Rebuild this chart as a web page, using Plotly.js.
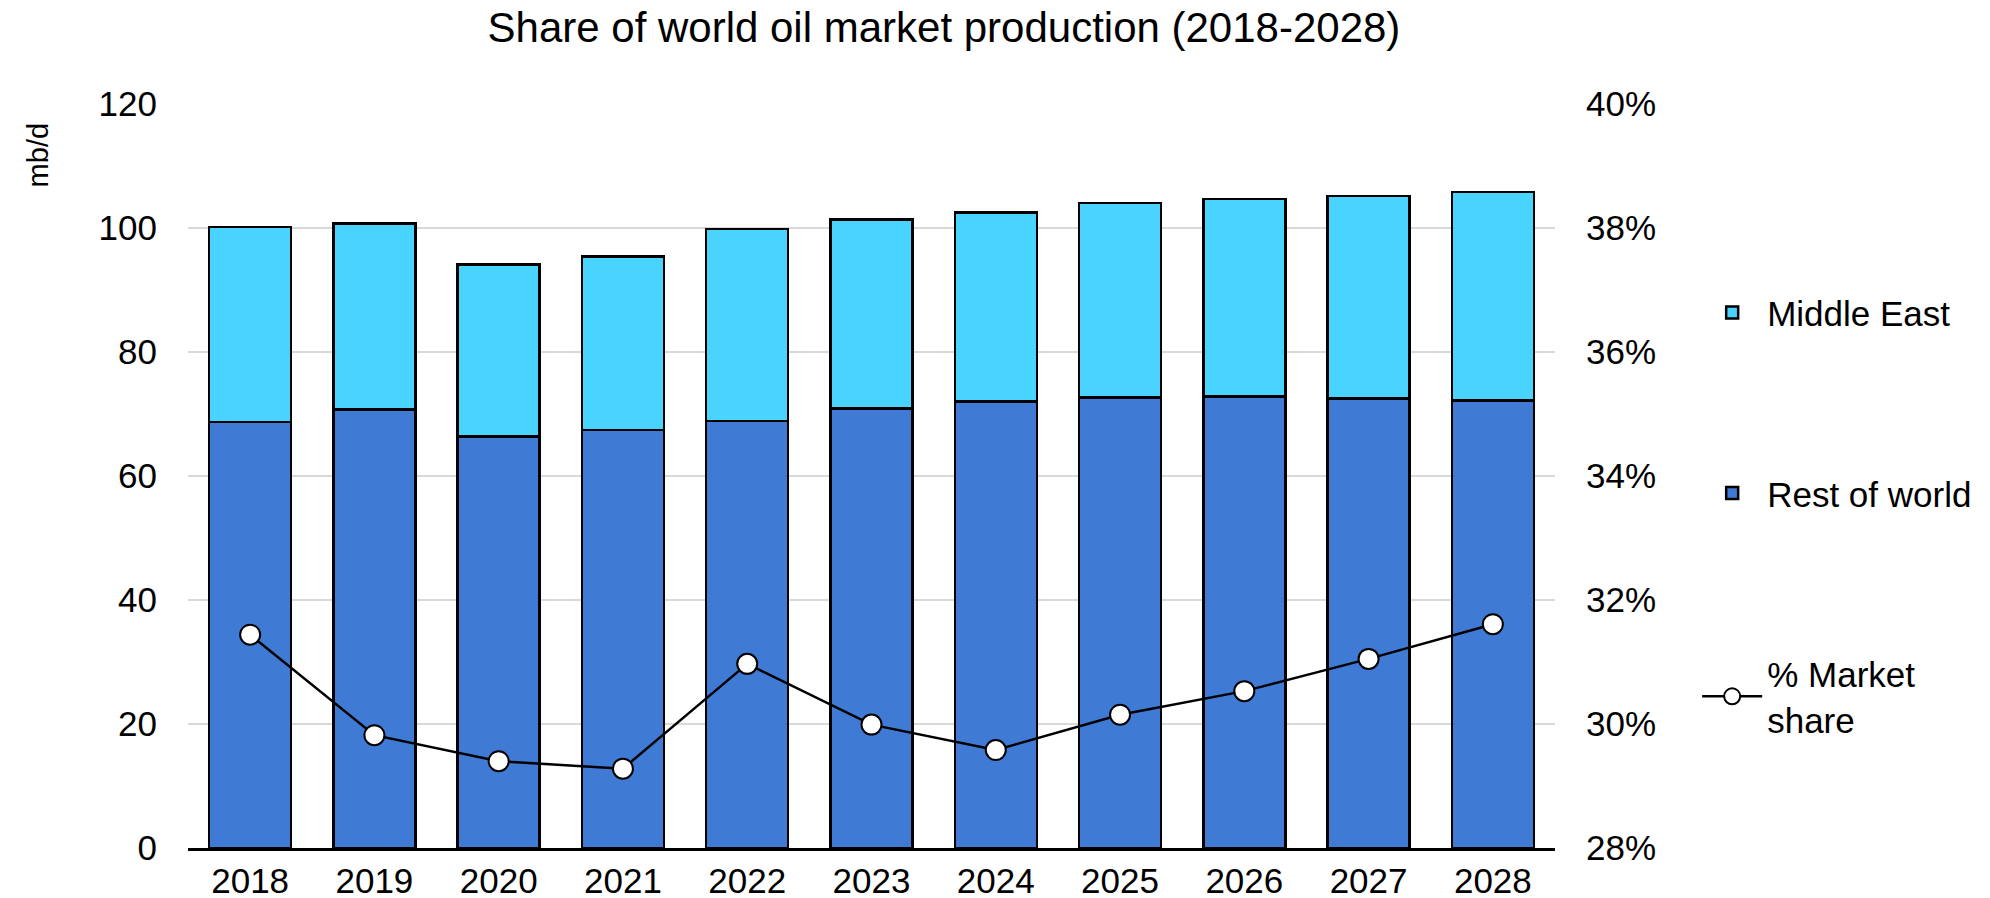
<!DOCTYPE html>
<html>
<head>
<meta charset="utf-8">
<script src="https://cdn.plot.ly/plotly-3.0.1.min.js"></script>
<style>html,body{margin:0;padding:0;background:#fff;}#chart{width:1990px;height:898px;}</style>
</head>
<body>
<div id="chart"></div>
<script>
const years = ['2018','2019','2020','2021','2022','2023','2024','2025','2026','2027','2028'];
const restOfWorld = [68.7, 70.7, 66.4, 67.4, 68.9, 70.9, 72.0, 72.7, 72.8, 72.5, 72.2];
const middleEast = [31.5, 30.05, 27.7, 28.0, 30.9, 30.5, 30.5, 31.3, 31.9, 32.7, 33.6];
const marketShare = [31.44, 29.82, 29.40, 29.28, 30.97, 29.99, 29.58, 30.15, 30.53, 31.05, 31.61];
const leftTicks = [0, 20, 40, 60, 80, 100, 120];
const rightTicks = [28, 30, 32, 34, 36, 38, 40];

const FONT = 'Liberation Sans, Arial, sans-serif';

const traces = [
  {
    type: 'bar', name: 'Rest of world', x: years, y: restOfWorld,
    marker: {color: '#3F7AD4', line: {color: '#000', width: 2.5}},
    legendgroup: 'b', legendrank: 2, hoverinfo: 'x+y'
  },
  {
    type: 'bar', name: 'Middle East', x: years, y: middleEast,
    marker: {color: '#48D4FF', line: {color: '#000', width: 2.5}},
    legendgroup: 'a', legendrank: 1, hoverinfo: 'x+y'
  },
  {
    type: 'scatter', mode: 'lines+markers', name: '% Market<br>share', x: years, y: marketShare,
    yaxis: 'y2',
    line: {color: '#000', width: 2.5},
    marker: {symbol: 'circle', size: 20, color: '#fff', line: {color: '#000', width: 2}},
    legendgroup: 'c', legendrank: 3
  }
];

const layout = {
  width: 1990, height: 898,
  margin: {l: 188, r: 435, t: 104, b: 50, pad: 0},
  paper_bgcolor: '#fff', plot_bgcolor: '#fff',
  font: {family: FONT, size: 35, color: '#000'},
  title: {text: 'Share of world oil market production (2018-2028)', font: {family: FONT, size: 42, color: '#000'},
          x: 0.553, xref: 'paper', xanchor: 'center', y: 0.97, yanchor: 'middle'},
  barmode: 'stack', bargap: 0.34,
  showlegend: true,
  legend: {
    x: 1.104, xanchor: 'left', y: 0.759, yanchor: 'top',
    traceorder: 'grouped', tracegroupgap: 132,
    font: {family: FONT, size: 35, color: '#000'},
    bgcolor: 'rgba(0,0,0,0)', itemwidth: 60
  },
  xaxis: {
    type: 'category', categoryorder: 'array', categoryarray: years,
    range: [-0.5, 10.5], autorange: false,
    showline: true, linecolor: '#000', linewidth: 2.5,
    ticks: '', tickfont: {family: FONT, size: 35, color: '#000'},
    showgrid: false, zeroline: false, fixedrange: true
  },
  yaxis: {
    range: [0, 120], tickvals: leftTicks, ticktext: leftTicks.map(String),
    showgrid: true, gridcolor: '#D9D9D9', gridwidth: 2.5,
    zeroline: false, showline: false, ticks: '',
    tickfont: {family: FONT, size: 35, color: '#000'},
    ticklabelstandoff: 30
  },
  yaxis2: {
    overlaying: 'y', side: 'right', range: [28, 40],
    tickvals: rightTicks, ticktext: rightTicks.map(v => v + '%'),
    showgrid: false, zeroline: false, showline: false, ticks: '',
    tickfont: {family: FONT, size: 35, color: '#000'},
    ticklabelstandoff: 30
  },
  annotations: [
    {text: 'mb/d', xref: 'paper', yref: 'paper', x: -0.1097, y: 0.931, xanchor: 'center', yanchor: 'middle',
     textangle: -90, showarrow: false, font: {family: FONT, size: 29, color: '#000'}}
  ]
};

Plotly.newPlot('chart', traces, layout, {displayModeBar: false, staticPlot: true});
</script>
</body>
</html>
